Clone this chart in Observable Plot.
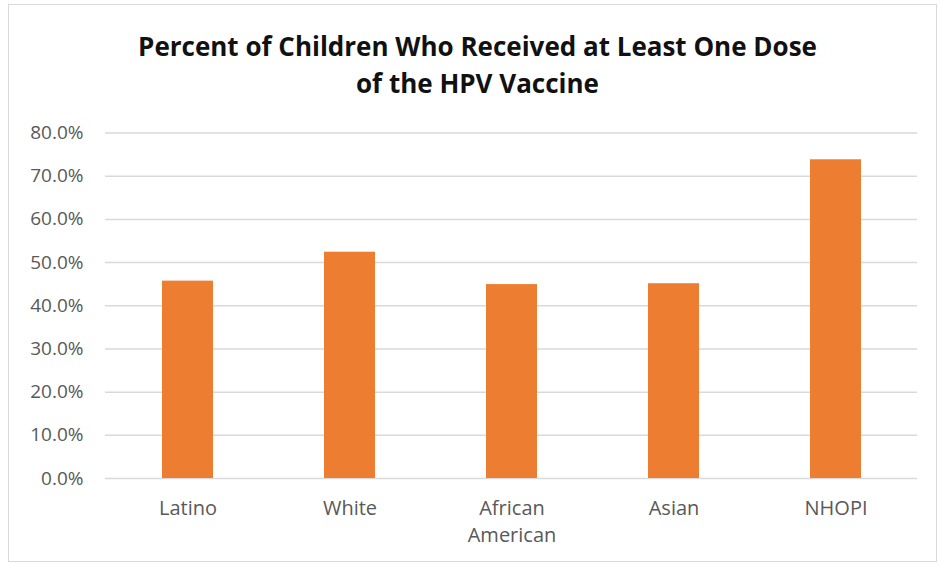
<!DOCTYPE html>
<html>
<head>
<meta charset="utf-8">
<script src="https://cdn.jsdelivr.net/npm/d3@7"></script>
<script src="https://cdn.jsdelivr.net/npm/@observablehq/plot@0.6"></script>
<style>
  html, body { margin: 0; padding: 0; background: #fff; }
  #wrap { position: relative; width: 943px; height: 565px; overflow: hidden; background: #fff; }
  #frame { position: absolute; left: 8px; top: 4px; width: 929px; height: 558px; border: 1px solid #d9d9d9; box-sizing: border-box; }
  #title { position: absolute; left: 0; width: 955px; top: 28px; text-align: center;
           font-family: "Open Sans", sans-serif; font-weight: 700; font-size: 26px; line-height: 37px; color: #111; }
  #chart { position: absolute; left: 0; top: 0; }
</style>
</head>
<body>
<div id="wrap">
  <div id="frame"></div>
  <div id="title">Percent of Children Who Received at Least One Dose<br>of the HPV Vaccine</div>
  <div id="chart"></div>
</div>
<script>
const categories = ["Latino", "White", "African\nAmerican", "Asian", "NHOPI"];
const values = [45.7, 52.4, 44.9, 45.1, 73.8];
const yTicks = [0, 10, 20, 30, 40, 50, 60, 70, 80];

const data = categories.map((c, i) => ({category: c, value: values[i]}));

const plot = Plot.plot({
  width: 943,
  height: 565,
  marginTop: 132.5,
  marginBottom: 87,
  marginLeft: 105,
  marginRight: 26,
  style: {fontFamily: "Open Sans, sans-serif", background: "transparent", color: "#595959"},
  x: {domain: categories, paddingInner: 0.686, paddingOuter: 0.343, label: null},
  y: {domain: [0, 80], label: null},
  marks: [
    Plot.ruleY(yTicks, {stroke: "#d9d9d9", strokeWidth: 1.5}),
    Plot.barY(data, {x: "category", y: "value", fill: "#ED7D31"}),
    Plot.axisY(yTicks, {tickSize: 0, tickPadding: 22, tickFormat: d => d.toFixed(1) + "%", fontSize: 19, fill: "#595959", label: null}),
    Plot.axisX({tickSize: 0, tickPadding: 17, fontSize: 20, fill: "#595959", lineHeight: 1.35, label: null})
  ]
});
document.getElementById("chart").appendChild(plot);
</script>
</body>
</html>
